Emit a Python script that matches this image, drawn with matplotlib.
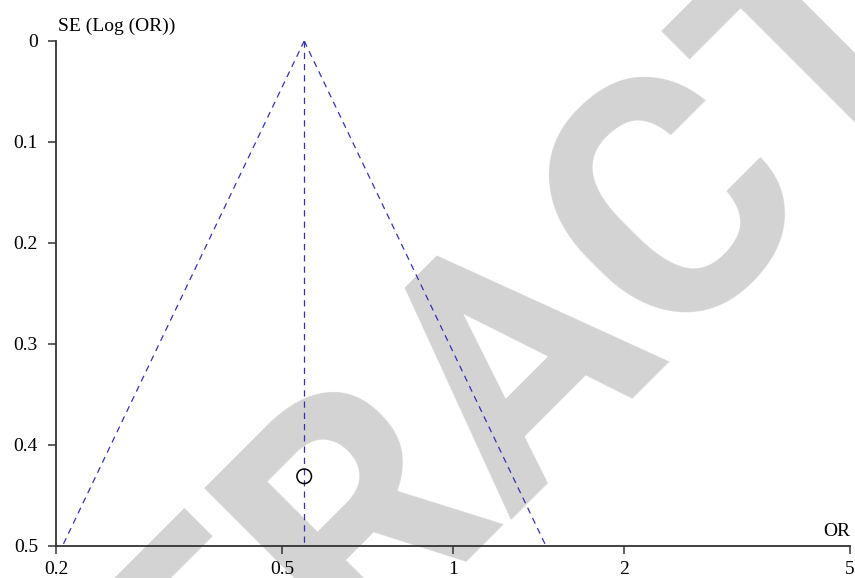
import numpy as np
import matplotlib.pyplot as plt

# pooled estimate and the single study
pooled_or = 0.547
study_or = [0.547]
study_se = [0.431]
se_max = 0.5

xticks = [0.2, 0.5, 1, 2, 5]
yticks = [0, 0.1, 0.2, 0.3, 0.4, 0.5]

plt.rcParams["font.family"] = ["Liberation Serif", "DejaVu Serif"]

fig = plt.figure(figsize=(8.55, 5.78), dpi=100)
ax = fig.add_axes([0.0655, 0.0554, 0.9287, 0.8737])

# watermark behind everything
fig.text(0.612, 0.384, "RETRACTED", fontsize=242, color="#d3d3d3",
         family="Roboto", weight="bold", rotation=45,
         ha="center", va="center", rotation_mode="anchor", zorder=-1)
ax.patch.set_alpha(0)

# pseudo 95% confidence funnel
log_p = np.log(pooled_or)
se_line = np.array([0, se_max])
line_kw = dict(color="#3333b3", lw=0.9, ls=(0, (5, 4)))
ax.plot(np.exp(log_p - 1.96 * se_line), se_line, **line_kw)
ax.plot(np.exp(log_p + 1.96 * se_line), se_line, **line_kw)
ax.plot([pooled_or, pooled_or], [0, se_max], **line_kw)

ax.scatter(study_or, study_se, s=110, facecolors="none", edgecolors="black",
           linewidths=1.1, zorder=3)

ax.set_xscale("log")
ax.set_xlim(0.2, 5)
ax.set_ylim(0.5, 0)
ax.set_xticks(xticks)
ax.set_xticklabels([str(t) for t in xticks])
ax.minorticks_off()
ax.set_yticks(yticks)
ax.set_yticklabels(["0", "0.1", "0.2", "0.3", "0.4", "0.5"])

for side in ["top", "right"]:
    ax.spines[side].set_visible(False)
for side in ["left", "bottom"]:
    ax.spines[side].set_color("#333333")
    ax.spines[side].set_linewidth(1.3)
ax.tick_params(length=6, width=1.1, color="#333333", labelsize=14, pad=5)
ax.tick_params(axis="y", pad=7)

ax.text(0.002, 1.012, "SE (Log (OR))", transform=ax.transAxes, fontsize=14,
        ha="left", va="bottom")
ax.text(1.0, 0.012, "OR", transform=ax.transAxes, fontsize=14,
        ha="right", va="bottom")

fig.savefig("out.png", dpi=100)
